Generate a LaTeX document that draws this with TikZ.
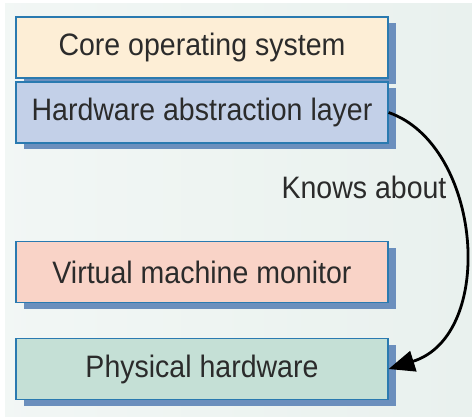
\documentclass[tikz,border=0pt]{standalone}
\usepackage{fontspec}
\setmainfont{Liberation Sans}[FakeStretch=0.92]
\usetikzlibrary{shadows,arrows.meta}
\definecolor{bgcol}{RGB}{233,241,238}
\definecolor{edgeblue}{RGB}{42,122,176}
\definecolor{shadeblue}{RGB}{107,143,189}
\definecolor{corecol}{RGB}{253,238,214}
\definecolor{halcol}{RGB}{195,208,232}
\definecolor{vmmcol}{RGB}{249,211,199}
\definecolor{physcol}{RGB}{197,224,214}
\definecolor{textgray}{RGB}{43,43,43}

\begin{document}
\begin{tikzpicture}[x=1pt,y=-1pt,
  layer/.style={draw=edgeblue,line width=1.2pt,minimum width=372pt,minimum height=61pt,
    inner sep=0pt,font=\fontsize{31}{34}\selectfont,text=textgray,
    drop shadow={shadow xshift=8pt,shadow yshift=-6pt,fill=shadeblue,opacity=1}}]
\useasboundingbox (0,0) rectangle (472,416);
\fill [white] (0,0) rectangle (472,416);
\fill [left color=bgcol!60!white,right color=bgcol] (5,3) rectangle (472,416);
% the four layers
\node [layer,fill=corecol] (core) at (202,47.5) {Core operating system};
\node [layer,fill=halcol] (hal) at (202,112.5) {Hardware abstraction layer};
\node [layer,fill=vmmcol] (vmm) at (202,272) {Virtual machine monitor};
\node [layer,fill=physcol] (phys) at (202,369) {Physical hardware};
\node [font=\fontsize{31}{34}\selectfont,text=textgray] (knows) at (364,187) {Knows about};
\draw [line width=2.8pt,-{Triangle[length=26pt,width=21pt]}] (hal.east) .. controls (482,145) and (497,335) .. (phys.east);
\end{tikzpicture}
\end{document}
